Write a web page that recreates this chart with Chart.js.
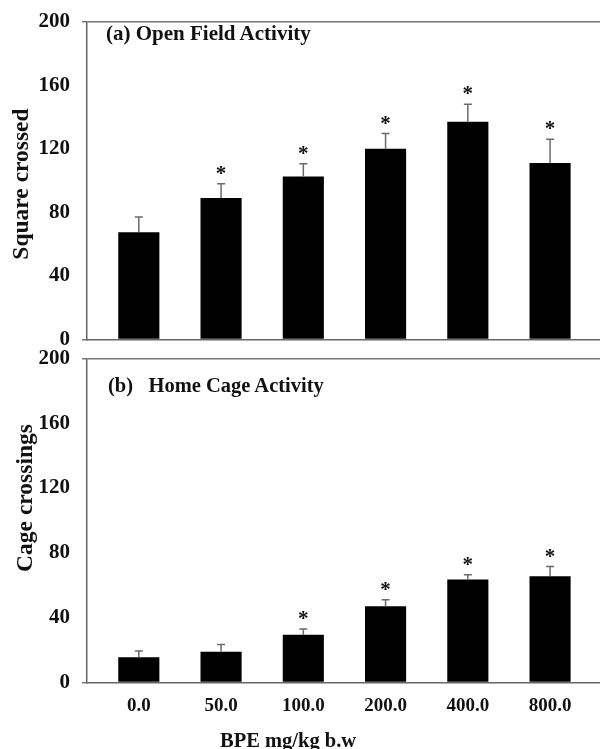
<!DOCTYPE html>
<html>
<head>
<meta charset="utf-8">
<script src="https://cdn.jsdelivr.net/npm/chart.js@4.4.1/dist/chart.umd.min.js"></script>
<style>
  body { margin: 0; background: #fff; }
  #lienzo { position: relative; width: 600px; height: 749px; overflow: hidden; font-family: "Liberation Serif", "Times New Roman", serif; font-weight: bold; color: #111; }
  .panel { position: absolute; left: 0; width: 600px; }
  #panelA { top: -10px; height: 375px; }
  #panelB { top: 330px; height: 419px; }
  .texto { position: absolute; white-space: pre; line-height: 1; }
  .vertical { transform: translate(-50%, -50%) rotate(-90deg); }
</style>
</head>
<body>
<div id="lienzo">
  <div class="panel" id="panelA"><canvas id="campo"></canvas></div>
  <div class="panel" id="panelB"><canvas id="jaula"></canvas></div>
  <div class="texto" style="left:106px; top:23px; font-size:21px;">(a) Open Field Activity</div>
  <div class="texto" style="left:108px; top:375px; font-size:20.5px;">(b)   Home Cage Activity</div>
  <div class="texto vertical" style="left:21px; top:184px; font-size:23.5px;">Square crossed</div>
  <div class="texto vertical" style="left:25px; top:498px; font-size:23.5px;">Cage crossings</div>
  <div class="texto" style="left:220px; top:730px; font-size:20.5px;">BPE mg/kg b.w</div>
</div>
<script>
// dosis de BPE (mg/kg b.w)
const dosis = ["0.0", "50.0", "100.0", "200.0", "400.0", "800.0"];
// (a) open field: cuadros cruzados, media y error
const campoAbierto = [67.5, 89, 102.5, 120, 137, 111];
const campoAbiertoError = [9.5, 9, 8, 9.5, 11, 15];
const campoAbiertoSignif = [false, true, true, true, true, true];
// (b) home cage: cruces en la jaula
const jaula = [15.5, 19, 29.5, 47, 63.5, 65.5];
const jaulaError = [4, 4.5, 3.5, 4, 3, 6];
const jaulaSignif = [false, false, true, true, true, true];
// eje y
const ejeY = [0, 40, 80, 120, 160, 200];

const fuente = "'Liberation Serif', 'Times New Roman', serif";

function crearPanel(id, valores, errores, signif, conEtiquetas, alturaEjeX, padding) {
    // barras de error hacia arriba y asteriscos
    const marcas = {
        id: "marcas",
        afterDatasetsDraw(chart) {
            const ctx = chart.ctx;
            const y = chart.scales.y;
            const barras = chart.getDatasetMeta(0).data;
            ctx.save();
            ctx.strokeStyle = "#6a6a6a";
            ctx.lineWidth = 1.5;
            ctx.fillStyle = "#111";
            ctx.font = "bold 21px " + fuente;
            ctx.textAlign = "center";
            ctx.textBaseline = "alphabetic";
            barras.forEach((barra, i) => {
                const y0 = y.getPixelForValue(valores[i]);
                const y1 = y.getPixelForValue(valores[i] + errores[i]);
                ctx.beginPath();
                ctx.moveTo(barra.x, y0);
                ctx.lineTo(barra.x, y1);
                ctx.moveTo(barra.x - 4, y1);
                ctx.lineTo(barra.x + 4, y1);
                ctx.stroke();
                if (signif[i]) ctx.fillText("*", barra.x, y1 - 4);
            });
            ctx.restore();
        }
    };

    return new Chart(document.getElementById(id), {
        type: "bar",
        data: {
            datasets: [{
                data: valores.map((v, i) => ({ x: i, y: v })),
                backgroundColor: "#000",
                borderWidth: 0,
                barPercentage: 0.5,
                categoryPercentage: 1
            }]
        },
        options: {
            responsive: true,
            maintainAspectRatio: false,
            animation: false,
            layout: { padding: padding },
            plugins: { legend: { display: false }, tooltip: { enabled: false } },
            scales: {
                x: {
                    type: "linear",
                    offset: false,
                    min: -0.63,
                    max: 5.607,
                    grid: { display: false, offset: false },
                    border: { color: "#666", width: 1.5 },
                    ticks: {
                        display: conEtiquetas,
                        stepSize: 1,
                        includeBounds: false,
                        autoSkip: false,
                        maxRotation: 0,
                        padding: 4,
                        color: "#111",
                        font: { family: fuente, size: 19, weight: "bold" },
                        callback: (v) => dosis[v] ?? ""
                    },
                    afterFit: (escala) => { escala.height = alturaEjeX; }
                },
                y: {
                    min: 0,
                    max: 200,
                    afterBuildTicks: (escala) => { escala.ticks = ejeY.map((v) => ({ value: v })); },
                    grid: {
                        drawOnChartArea: true,
                        tickLength: 5,
                        lineWidth: 1.5,
                        color: (c) => (c.tick && c.tick.value === 200 ? "#777" : "transparent"),
                        tickColor: (c) => (c.tick && (c.tick.value === 200 || c.tick.value === 0) ? "#777" : "transparent")
                    },
                    border: { color: "#666", width: 1.5 },
                    ticks: {
                        padding: 12,
                        color: "#111",
                        font: { family: fuente, size: 21, weight: "bold" }
                    },
                    afterFit: (escala) => { escala.width = 87; }
                }
            }
        },
        plugins: [marcas]
    });
}

crearPanel("campo", campoAbierto, campoAbiertoError, campoAbiertoSignif, false, 0, { top: 31.5, bottom: 25.5, left: 0, right: 0 });
crearPanel("jaula", jaula, jaulaError, jaulaSignif, true, 66.5, { top: 28.3, bottom: 0, left: 0, right: 0 });
</script>
</body>
</html>
